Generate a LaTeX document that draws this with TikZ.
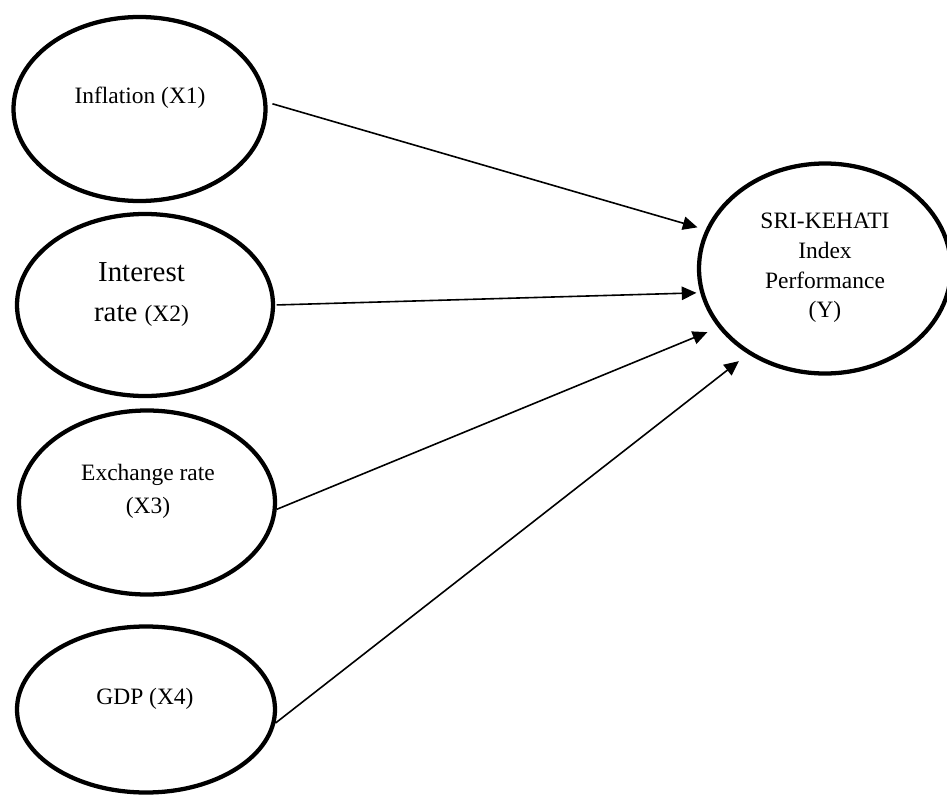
\documentclass[tikz,border=0pt]{standalone}
\usepackage{fontspec}
\setmainfont{Liberation Serif}
\usetikzlibrary{arrows.meta,shapes.geometric}

\begin{document}
\begin{tikzpicture}[x=0.75pt,y=-0.75pt,>={Triangle[length=11pt,width=10pt]},
  ell/.style={draw,ellipse,line width=3.2pt,inner sep=0pt},
  lbl/.style={align=center,inner sep=0pt,font=\fontsize{17.6}{22.3}\selectfont},
  arr/.style={->,line width=1.2pt}]
\useasboundingbox (0,0) rectangle (947,796);
\node[ell,minimum width=189pt,minimum height=138pt] (infl) at (139.5,109) {};
\node[ell,minimum width=192pt,minimum height=136.5pt] (rate) at (145,305) {};
\node[ell,minimum width=192pt,minimum height=138pt] (exch) at (147,502.5) {};
\node[ell,minimum width=193.5pt,minimum height=124.5pt] (gdp) at (146,709.5) {};
\node[ell,minimum width=189pt,minimum height=157.5pt] (perf) at (825,268.5) {};
\node[lbl] (infltxt) at (140,98.2) {Inflation (X1)};
\node[lbl,font=\fontsize{21.7}{30}\selectfont] (ratetxt) at (141.5,294.8)
  {Interest\\rate {\fontsize{17.6}{30}\selectfont(X2)}};
\node[lbl,font=\fontsize{17.6}{24.75}\selectfont] (exchtxt) at (148,490.9)
  {Exchange rate\\(X3)};
\node[lbl] (gdptxt) at (145,699.3) {GDP (X4)};
\node[lbl] (perftxt) at (825,268) {SRI-KEHATI\\Index\\Performance\\(Y)};
\draw[arr,shorten <=4pt,shorten >=6.3pt] (infl.3.3) -- (perf.162.4);
\draw[arr,shorten <=1.2pt,shorten >=2.8pt] (rate.0) -- (perf.191.7);
\draw[arr,shorten >=8.8pt] (exch.357.6) -- (perf.209.5);
\draw[arr,shorten >=8.6pt] (gdp.354.5) -- (perf.228.7);
\end{tikzpicture}
\end{document}
